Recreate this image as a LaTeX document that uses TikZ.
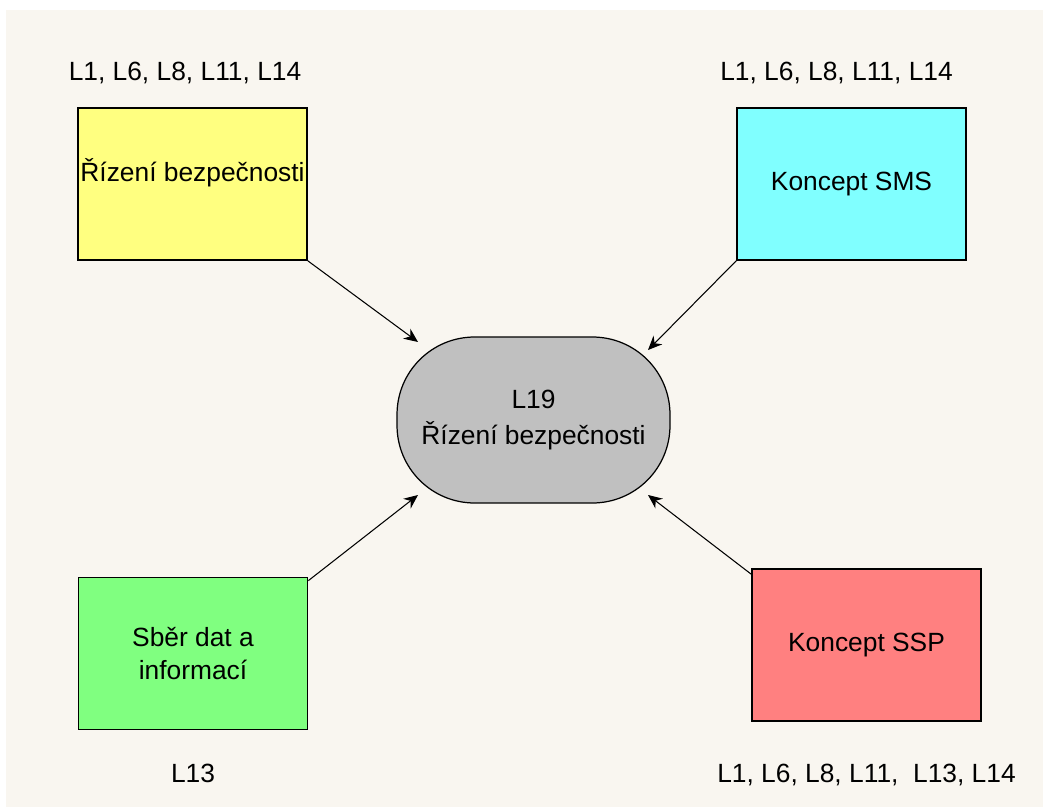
\documentclass[tikz,border=0pt]{standalone}
\usepackage{fontspec}
\setmainfont{Liberation Sans}
\usepackage{tikz}
\usetikzlibrary{positioning, arrows.meta}
\usepackage{xcolor}
\definecolor{pozadi}{RGB}{249,246,240}
\definecolor{zluta}{RGB}{255,255,128}
\definecolor{azur}{RGB}{128,255,255}
\definecolor{zelena}{RGB}{128,255,128}
\definecolor{cervena}{RGB}{255,128,128}
\definecolor{seda}{RGB}{192,192,192}

\begin{document}
\begin{tikzpicture}[
  x=0.02cm, y=0.02cm,
  blok/.style={draw, line width=1pt, rectangle, align=center, inner sep=0pt,
               minimum width=4.58cm, minimum height=3.04cm,
               font=\fontsize{15}{19}\selectfont},
  stred/.style={draw, line width=0.7pt, rectangle, rounded corners=1.55cm,
                fill=seda, align=center, inner sep=0pt,
                minimum width=5.46cm, minimum height=3.32cm,
                font=\fontsize{15}{20}\selectfont},
  popis/.style={font=\fontsize{15}{19}\selectfont, inner sep=0pt},
  sipka/.style={-{Stealth[length=8pt, width=7pt]}, line width=0.6pt}
]

% pozadi
\fill[white] (0,0) rectangle (1043,-807);
\fill[pozadi] (6,-10) rectangle (1043,-807);

\node[stred] (l19) at (533.5,-420) {L19\\Řízení bezpečnosti};

\node[blok, fill=zluta] (riz) at (192.5,-184) {Řízení bezpečnosti\\[-3pt]\mbox{}};
\node[popis, above=0.45cm of riz, xshift=-0.15cm] (priz) {L1, L6, L8, L11, L14};

\node[blok, fill=azur] (sms) at (851.5,-184) {Koncept SMS};
\node[popis, above=0.45cm of sms, xshift=-0.3cm] (psms) {L1, L6, L8, L11, L14};

\node[blok, fill=zelena] (sber) at (193,-653.5) {Sběr dat a\\informací};
\node[popis, below=0.66cm of sber] (psber) {L13};

\node[blok, fill=cervena] (ssp) at (866.5,-645) {Koncept SSP};
\node[popis, below=0.84cm of ssp] (pssp) {L1, L6, L8, L11,\ \ L13, L14};

% konce sipek u stredu
\coordinate (cilRiz) at (418,-342);
\coordinate (cilSms) at (648,-350);
\coordinate (cilSber) at (418,-495);
\coordinate (cilSsp) at (648,-495);

\draw[sipka] (riz.south east) -- (cilRiz);
\draw[sipka] (sms.south west) -- (cilSms);
\draw[sipka] ([yshift=-0.08cm]sber.north east) -- (cilSber);
\draw[sipka] ([yshift=-0.12cm]ssp.north west) -- (cilSsp);

\end{tikzpicture}
\end{document}
